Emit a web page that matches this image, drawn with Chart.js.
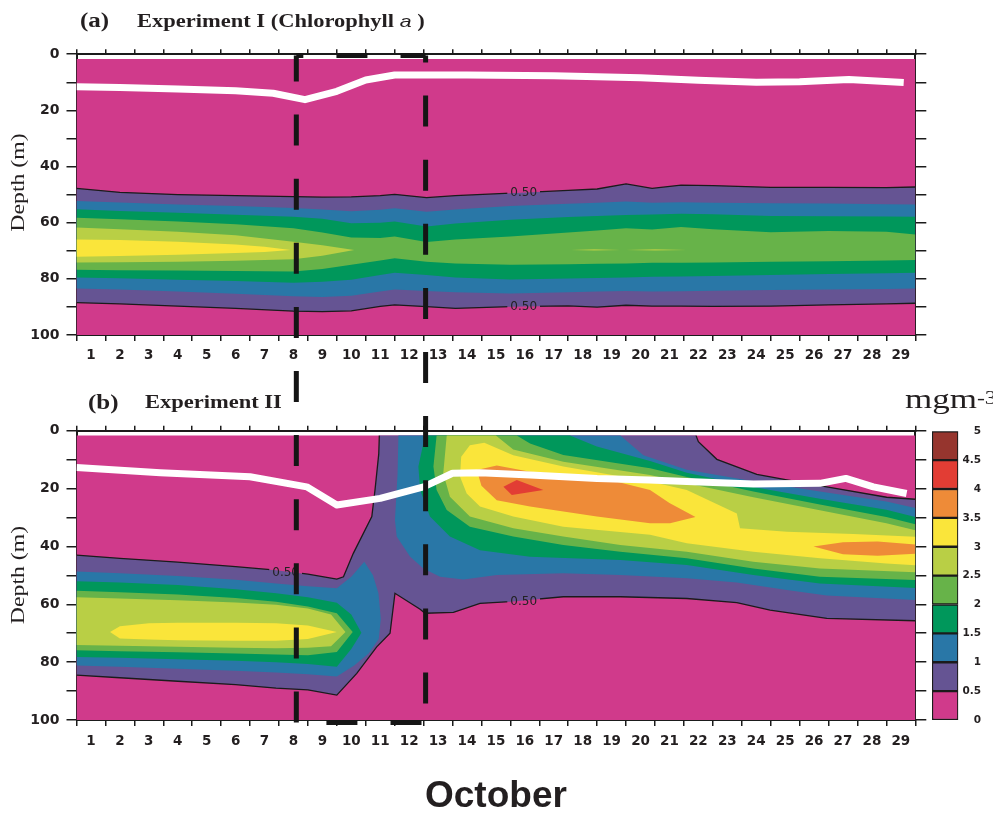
<!DOCTYPE html>
<html>
<head>
<meta charset="utf-8">
<title>Chlorophyll a — Experiments I and II</title>
<script src="https://cdn.jsdelivr.net/npm/chart.js@4.4.1/dist/chart.umd.min.js"></script>
<style>
  html, body { margin: 0; padding: 0; background: #fff; }
  body { position: relative; width: 993px; height: 814px; overflow: hidden; }
  canvas { position: absolute; }
  .txt { position: absolute; left: 0; top: 0; white-space: nowrap; transform-origin: 0 0; color: #231f20; line-height: 1; }
  .serif { font-family: 'Liberation Serif', 'Times New Roman', serif; }
</style>
</head>
<body>
<canvas id="chartA" width="993" height="372" style="left:0;top:0;width:993px;height:372px"></canvas>
<canvas id="chartB" width="993" height="442" style="left:0;top:372px;width:993px;height:442px"></canvas>
<canvas id="scaleBar" width="68" height="320" style="left:925px;top:420px;width:68px;height:320px"></canvas>
<canvas id="box" width="993" height="814" style="left:0;top:0;width:993px;height:814px;pointer-events:none"></canvas>

<div class="txt serif" style="font-weight:bold;font-size:20px;transform:translate(80px,9.8px) scaleX(1.25)">(a)</div>
<div class="txt serif" style="font-weight:bold;font-size:18px;transform:translate(137px,11.6px) scaleX(1.25)">Experiment I (Chlorophyll <span style="font:italic 17px 'Liberation Sans',sans-serif;line-height:1">a</span> )</div>
<div class="txt serif" style="font-weight:bold;font-size:20px;transform:translate(88px,391.8px) scaleX(1.25)">(b)</div>
<div class="txt serif" style="font-weight:bold;font-size:18px;transform:translate(145px,392.9px) scaleX(1.25)">Experiment II</div>
<div class="txt serif" style="font-size:28px;transform:translate(905px,384.5px) scaleX(1.25)">mgm<span style="font-size:19px;vertical-align:4px;line-height:1">-3</span></div>
<div class="txt serif" style="font-size:19px;transform:translate(17.5px,182.5px) rotate(-90deg) scaleX(1.25) translate(-50%,-50%)">Depth (m)</div>
<div class="txt serif" style="font-size:19px;transform:translate(17.5px,575px) rotate(-90deg) scaleX(1.25) translate(-50%,-50%)">Depth (m)</div>
<div class="txt" style="font:bold 37px 'Liberation Sans',Arial,sans-serif;line-height:1;transform:translate(425px,775.7px)">October</div>

<script>
// ---------------------------------------------------------------------------
// Axis and shading definitions
// ---------------------------------------------------------------------------
const days = [1, 2, 3, 4, 5, 6, 7, 8, 9, 10, 11, 12, 13, 14, 15, 16, 17, 18, 19, 20,
              21, 22, 23, 24, 25, 26, 27, 28, 29];
const dayMin = 0.5, dayMax = 29.5;
const depthMax = 100;
const surfaceDepth = 1.7;            // shallowest model level (m)
const levels = [0, 0.5, 1, 1.5, 2, 2.5, 3, 3.5, 4, 4.5];
const levelColors = ['#d03a8b', '#655493', '#2977a7', '#00975b', '#67b349',
                     '#b9cf45', '#fae53a', '#ee8b38', '#e23d34', '#96352e'];
const stormDays = [8.1, 12.57];      // start / end of the dashed period box

// ---------------------------------------------------------------------------
// Experiment I: depth (m) of the upper and lower edge of each contour level
// ---------------------------------------------------------------------------
const aDays  = [0.5, 2, 4, 6, 8, 9, 10, 11, 11.5, 12.6, 13.6, 15.5, 17.5, 18.5, 19.5, 20.4, 21.4, 22.5, 24.5, 26.5, 28.5, 29.5];
const aTop05 = [47.8, 49.2, 50.0, 50.4, 50.7, 50.9, 50.8, 50.4, 49.9, 51.1, 50.4, 49.5, 48.5, 48.0, 46.2, 47.8, 46.6, 46.8, 47.4, 47.4, 47.5, 47.3];
const aTop10 = [52.3, 52.8, 53.5, 54.1, 54.8, 55.3, 55.9, 55.4, 54.9, 56.1, 55.3, 54.1, 53.3, 52.9, 52.5, 52.9, 52.7, 52.9, 53.1, 53.2, 53.4, 53.5];
const aTop15 = [55.2, 55.8, 56.5, 57.2, 57.9, 58.6, 60.2, 60.0, 59.6, 61.4, 60.3, 59.0, 58.0, 57.6, 57.3, 57.1, 56.8, 57.0, 57.6, 57.7, 57.8, 57.9];
const aTop20 = [58.2, 58.8, 59.6, 60.6, 62.0, 63.5, 65.3, 65.5, 64.9, 66.9, 66.0, 64.9, 63.5, 62.8, 62.0, 62.4, 61.5, 62.3, 63.4, 63.0, 63.2, 64.2];
const aBot20 = [76.8, 76.9, 77.0, 77.2, 77.4, 76.5, 75.0, 73.5, 72.7, 73.9, 74.5, 75.0, 74.8, 74.6, 74.5, 74.3, 74.3, 74.2, 73.9, 73.7, 73.5, 73.3];
const aBot15 = [79.5, 79.8, 80.3, 80.8, 81.4, 81.0, 80.3, 78.6, 77.8, 78.6, 79.5, 80.2, 79.9, 79.7, 79.5, 79.3, 79.2, 79.0, 78.6, 78.3, 78.0, 77.8];
const aBot10 = [83.4, 83.8, 84.5, 85.3, 86.2, 86.5, 86.0, 84.5, 83.8, 84.3, 84.8, 85.2, 84.8, 84.5, 84.3, 84.5, 84.4, 84.2, 84.0, 83.8, 83.6, 83.4];
const aBot05 = [88.5, 88.9, 89.7, 90.5, 91.5, 91.7, 91.4, 89.8, 89.3, 89.9, 90.5, 89.9, 89.6, 90.1, 89.4, 89.7, 89.7, 89.8, 89.7, 89.3, 88.9, 88.7];

const aDays25 = [0.5, 2, 4, 6, 8, 9];
const aTop25  = [61.7, 62.3, 63.2, 64.5, 66.8, 68.0];
const aBot25  = [74.2, 74.1, 73.9, 73.6, 73.0, 71.8];
const aTip25  = [10.1, 69.7];
const aDays30 = [0.5, 2, 4, 6, 7];
const aTop30  = [66.0, 66.2, 66.8, 67.8, 68.6];
const aBot30  = [72.1, 71.9, 71.4, 70.8, 70.4];
const aTip30  = [7.9, 69.7];
const aSpots25 = [
  [[17.6, 69.7], [18.4, 69.45], [19.3, 69.7], [18.4, 69.95]],
  [[19.5, 69.7], [20.5, 69.45], [21.6, 69.7], [20.5, 69.95]]
];
const aMldDays  = [0.5, 2, 4, 6, 7.3, 8.4, 9.5, 10.5, 11.5, 14, 17, 20, 22, 24, 25.5, 27.2, 29.1];
const aMldDepth = [11.6, 11.9, 12.4, 13.0, 13.9, 16.2, 13.2, 9.2, 7.4, 7.4, 7.7, 8.4, 9.3, 10.0, 9.8, 9.0, 10.1];
const aLabels = [[15.96, 49.3], [15.96, 89.9]];

// ---------------------------------------------------------------------------
// Experiment II: contour regions as [day, depth] outlines
// ---------------------------------------------------------------------------
const bArea05 = [[10.97, 1.7], [21.92, 1.7], [22.0, 3.8], [22.64, 9.9], [24.02, 15.1], [25.06, 17.0], [26.44, 19.4],
  [28.51, 23.0], [29.5, 23.7], [29.5, 65.7], [26.44, 64.9], [24.48, 62.0], [23.33, 59.4], [21.6, 58.0], [19.3, 57.4],
  [17.33, 57.4], [15.49, 59.1], [14.45, 59.7], [13.53, 62.8], [12.55, 63.1], [12.38, 61.7], [11.51, 56.2], [11.34, 70.0],
  [10.88, 74.7], [10.19, 83.9], [9.5, 91.4], [8.5, 89.6], [7.4, 89.0], [6, 87.8], [4, 86.6], [2, 85.4], [0.5, 84.5],
  [0.5, 43.0], [2, 44.1], [4, 45.4], [6, 47.0], [7.4, 48.2], [8.5, 49.6], [9.5, 51.3], [9.73, 50.5], [10.07, 42.4],
  [10.71, 29.7], [10.82, 20.5], [10.95, 8.0]];
const bBand10 = [[0.5, 48.7], [2, 49.3], [4, 50.2], [6, 51.5], [7.4, 52.8], [8.5, 53.8], [9.5, 54.5], [10.0, 50.5],
  [10.45, 45.3], [10.75, 50.0], [10.94, 56.2], [11.02, 65.0], [10.95, 72.0], [10.6, 77.0], [10.1, 81.2], [9.5, 85.0],
  [8.5, 84.2], [7.4, 83.6], [6, 83.0], [4, 82.3], [2, 81.6], [0.5, 81.2]];
const bBand15 = [[0.5, 52.0], [2, 52.5], [4, 53.3], [6, 54.8], [7.4, 56.2], [8.5, 57.6], [9.5, 59.5], [10.0, 63.5],
  [10.35, 69.8], [10.0, 75.5], [9.5, 81.6], [8.5, 80.6], [7.4, 80.0], [6, 79.5], [4, 79.0], [2, 78.5], [0.5, 78.2]];
const bBand20 = [[0.5, 55.3], [2, 55.8], [4, 56.6], [6, 57.8], [7.4, 59.1], [8.5, 60.8], [9.5, 63.1], [10.05, 69.6],
  [9.5, 76.5], [8.5, 77.6], [7.4, 77.4], [6, 77.0], [4, 76.6], [2, 76.2], [0.5, 75.9]];
const bBand25 = [[0.5, 57.6], [2, 58.0], [4, 58.6], [6, 59.4], [7.4, 60.2], [8.5, 61.5], [9.3, 63.5], [9.8, 69.6],
  [9.3, 74.5], [8.5, 75.0], [7.4, 75.2], [6, 75.0], [4, 74.7], [2, 74.3], [0.5, 74.1]];
const bBand30 = [[1.66, 69.6], [2, 67.6], [3, 66.6], [4, 66.4], [6, 66.4], [7.4, 66.6], [8.5, 67.3], [9.5, 69.6],
  [8.5, 72.0], [7.4, 72.6], [6, 72.6], [4, 72.4], [3, 72.2], [2, 71.8]];
const bBloom10 = [[11.63, 1.7], [19.3, 1.7], [20.1, 8.5], [21.6, 13.5], [23.9, 17.5], [26.2, 21.0], [28.5, 24.5],
  [29.5, 26.7], [29.5, 58.5], [26.44, 57.0], [25.06, 55.1], [23.33, 52.5], [21.6, 51.0], [19.3, 49.9], [17.33, 49.3],
  [15.03, 49.9], [13.88, 51.4], [13.07, 50.5], [12.49, 47.6], [12.03, 43.5], [11.57, 36.6], [11.51, 30.9], [11.6, 15.0]];
const bBloom15 = [[12.55, 1.7], [17.56, 1.7], [18.49, 5.5], [20.33, 10.5], [21.6, 14.5], [23.9, 19.5], [26.2, 23.5],
  [28.5, 27.3], [29.5, 29.8], [29.5, 54.4], [26.2, 52.8], [23.9, 49.9], [21.6, 46.4], [19.3, 44.7], [16.18, 43.6],
  [14.45, 41.3], [13.41, 36.6], [12.72, 29.7], [12.38, 20.5], [12.32, 12.4]];
const bBloom20 = [[12.95, 1.7], [15.72, 1.7], [16.18, 4.4], [17.33, 8.4], [20.33, 13.0], [21.6, 16.0], [23.9, 21.0],
  [26.2, 25.5], [28.5, 29.8], [29.5, 32.3], [29.5, 51.6], [26.2, 50.5], [23.9, 47.6], [21.6, 44.1], [19.3, 41.8],
  [17.33, 39.5], [15.6, 36.6], [14.1, 33.2], [13.3, 27.4], [12.95, 20.5], [12.84, 12.4]];
const bBloom25 = [[13.3, 1.7], [15.0, 1.7], [15.6, 6.5], [17.33, 10.7], [20.33, 15.3], [21.6, 18.2], [23.9, 23.0],
  [26.2, 27.5], [28.5, 32.0], [29.5, 34.4], [29.5, 48.9], [26.2, 47.6], [23.9, 45.3], [21.6, 41.8], [19.3, 39.5],
  [17.33, 36.6], [15.6, 33.7], [14.1, 29.7], [13.41, 22.8], [13.18, 14.7]];
const bBloom30 = [[13.8, 9.0], [14.1, 5.0], [14.6, 4.2], [15.6, 8.5], [17.33, 12.4], [20.33, 17.6], [21.6, 20.5],
  [23.33, 28.6], [23.44, 33.7], [25.06, 34.9], [27.36, 35.7], [29.5, 36.7], [29.5, 46.5], [28.5, 45.9], [26.21, 44.1],
  [23.9, 41.8], [21.6, 38.9], [20.33, 36.0], [17.33, 33.2], [15.6, 29.7], [14.45, 26.2], [13.99, 21.7], [13.76, 15.9]];
const bCore35 = [[14.34, 13.6], [15.03, 12.0], [16.18, 14.2], [18.49, 15.9], [20.33, 20.5], [21.0, 25.0], [21.9, 29.8],
  [21.02, 32.0], [20.33, 32.0], [18.49, 29.7], [16.18, 26.2], [15.03, 24.0], [14.5, 19.0]];
const bDeep35 = [[25.98, 40.0], [27.0, 38.6], [28.2, 38.3], [29.5, 39.3], [29.5, 42.5], [28.2, 43.2], [27.0, 42.7]];
const bCore40 = [[15.26, 19.4], [15.72, 17.0], [16.64, 20.5], [15.55, 22.2]];

const bLine05West = [[0.5, 43.0], [2, 44.1], [4, 45.4], [6, 47.0], [7.4, 48.2], [8.5, 49.6], [9.5, 51.3], [9.73, 50.5],
  [10.07, 42.4], [10.71, 29.7], [10.82, 20.5], [10.95, 8.0], [10.97, 1.7]];
const bLine05Deep = [[0.5, 84.5], [2, 85.4], [4, 86.6], [6, 87.8], [7.4, 89.0], [8.5, 89.6], [9.5, 91.4], [10.19, 83.9],
  [10.88, 74.7], [11.34, 70.0], [11.51, 56.2], [12.38, 61.7], [12.55, 63.1], [13.53, 62.8], [14.45, 59.7], [15.49, 59.1],
  [17.33, 57.4], [19.3, 57.4], [21.6, 58.0], [23.33, 59.4], [24.48, 62.0], [26.44, 64.9], [29.5, 65.7]];
const bLine05East = [[21.92, 1.7], [22.0, 3.8], [22.64, 9.9], [24.02, 15.1], [25.06, 17.0], [26.44, 19.4],
  [28.51, 23.0], [29.5, 23.7]];
const bMldDays  = [0.5, 3.4, 6.5, 8.46, 9.5, 11.0, 12.5, 13.5, 14.45, 16.2, 18.5, 20.3, 21.6, 23.9, 26.2, 27.1, 28.05, 29.2];
const bMldDepth = [12.7, 14.5, 15.9, 19.4, 25.7, 23.4, 19.4, 14.7, 14.5, 15.3, 16.5, 17.0, 17.6, 18.4, 18.2, 16.5, 19.4, 21.7];
const bLabels = [[7.73, 48.8], [15.96, 59.1]];

// ---------------------------------------------------------------------------
// Helpers that turn the arrays above into Chart.js datasets
// ---------------------------------------------------------------------------
const INK = '#1b1b1b';
const colorOf = lv => levelColors[levels.indexOf(lv)];
const toPts = pairs => pairs.map(([x, y]) => ({x, y}));
const seriesPts = (xs, ys) => xs.map((x, i) => ({x, y: ys[i]}));

function band(xs, top, bot, tip) {
  const p = seriesPts(xs, top);
  if (tip) p.push({x: tip[0], y: tip[1]});
  for (let i = xs.length - 1; i >= 0; i--) p.push({x: xs[i], y: bot[i]});
  return p;
}
function shaded(points, lv) {
  return { data: points, fill: 'shape', backgroundColor: colorOf(lv), borderWidth: 0,
           borderColor: 'rgba(0,0,0,0)', pointRadius: 0, tension: 0, xAxisID: 'x', yAxisID: 'y' };
}
function contourLine(points) {
  return { data: points, fill: false, borderColor: INK, borderWidth: 1.3, pointRadius: 0,
           tension: 0, isContour: true, xAxisID: 'x', yAxisID: 'y' };
}
function mixedLayer(xs, ds) {
  return { data: seriesPts(xs, ds), fill: false, borderColor: '#ffffff', borderWidth: 7, pointRadius: 0,
           tension: 0, borderCapStyle: 'butt', borderJoinStyle: 'round', xAxisID: 'x', yAxisID: 'y' };
}
function stackOrder(list) {           // first entry drawn at the bottom
  list.forEach((d, i) => { d.order = list.length - i; });
  return list;
}
const backgroundRect = [[dayMin, surfaceDepth], [dayMax, surfaceDepth], [dayMax, depthMax], [dayMin, depthMax]];

// Contour-value labels: the black line is cut under the text, then the text is written
const labelFont = "12px 'DejaVu Sans', sans-serif";
function labelBoxes(chart, items) {
  const ctx = chart.ctx;
  ctx.save(); ctx.font = labelFont;
  const w = ctx.measureText('0.50').width;
  ctx.restore();
  return items.map(([dx, dy]) => {
    const px = chart.scales.x.getPixelForValue(dx), py = chart.scales.y.getPixelForValue(dy);
    return {px, py, x: px - w / 2 - 3, y: py - 7, w: w + 6, h: 14};
  });
}
const contourLabels = {
  id: 'contourLabels',
  beforeDatasetDraw(chart, args, opts) {
    if (!chart.data.datasets[args.index].isContour) return;
    const ctx = chart.ctx;
    ctx.save();
    ctx.beginPath();
    ctx.rect(0, 0, chart.width, chart.height);
    for (const b of labelBoxes(chart, opts.items)) ctx.rect(b.x, b.y, b.w, b.h);
    ctx.clip('evenodd');
  },
  afterDatasetDraw(chart, args) {
    if (chart.data.datasets[args.index].isContour) chart.ctx.restore();
  },
  afterDatasetsDraw(chart, args, opts) {
    const ctx = chart.ctx;
    ctx.save();
    ctx.font = labelFont; ctx.fillStyle = '#222'; ctx.textAlign = 'center'; ctx.textBaseline = 'middle';
    for (const b of labelBoxes(chart, opts.items)) ctx.fillText('0.50', b.px, b.py + 0.5);
    ctx.restore();
  }
};

function panelOptions(area, canvasH, labelPad, items) {
  const setTicks = s => { s.ticks = days.map(v => ({value: v})); };
  return {
    responsive: false, animation: false, events: [],
    layout: { padding: 0 },
    plugins: { legend: { display: false }, tooltip: { enabled: false }, contourLabels: { items } },
    scales: {
      x: { type: 'linear', position: 'bottom', min: dayMin, max: dayMax, afterBuildTicks: setTicks,
           afterFit: s => { s.height = canvasH - area.bottom; },
           grid: { offset: true, drawOnChartArea: false, tickLength: 6, color: INK, lineWidth: 1.5 },
           border: { display: true, color: INK, width: 2 },
           ticks: { autoSkip: false, maxRotation: 0, padding: labelPad, font: { size: 13.5 }, callback: v => String(v) } },
      xt: { type: 'linear', axis: 'x', position: 'top', min: dayMin, max: dayMax, afterBuildTicks: setTicks,
            afterFit: s => { s.height = area.top; },
            grid: { offset: true, drawOnChartArea: false, tickLength: 5, color: INK, lineWidth: 1.5 },
            border: { display: true, color: INK, width: 2 },
            ticks: { display: false } },
      y: { type: 'linear', position: 'left', min: 0, max: depthMax, reverse: true,
           afterFit: s => { s.width = area.left; },
           grid: { drawOnChartArea: false, tickLength: 10, color: INK, lineWidth: 1.5 },
           border: { display: true, color: INK, width: 2 },
           ticks: { stepSize: 10, padding: 7, font: { size: 14 }, callback: v => (v % 20 === 0 ? String(v) : '') } },
      yr: { type: 'linear', axis: 'y', position: 'right', min: 0, max: depthMax, reverse: true,
            afterFit: s => { s.width = 993 - area.right; },
            grid: { drawOnChartArea: false, tickLength: 11, color: INK, lineWidth: 1.5 },
            border: { display: true, color: INK, width: 2 },
            ticks: { stepSize: 10, display: false } }
    }
  };
}

Chart.defaults.font.family = "'DejaVu Sans', sans-serif";
Chart.defaults.font.size = 13;
Chart.defaults.font.weight = 'bold';
Chart.defaults.color = '#231f20';

// ---------------------------------------------------------------------------
// (a) Experiment I
// ---------------------------------------------------------------------------
const setA = stackOrder([
  shaded(toPts(backgroundRect), 0),
  shaded(band(aDays, aTop05, aBot05), 0.5),
  shaded(band(aDays, aTop10, aBot10), 1),
  shaded(band(aDays, aTop15, aBot15), 1.5),
  shaded(band(aDays, aTop20, aBot20), 2),
  shaded(band(aDays25, aTop25, aBot25, aTip25), 2.5),
  ...aSpots25.map(s => shaded(toPts(s), 2.5)),
  shaded(band(aDays30, aTop30, aBot30, aTip30), 3),
  contourLine(seriesPts(aDays, aTop05)),
  contourLine(seriesPts(aDays, aBot05)),
  mixedLayer(aMldDays, aMldDepth)
]);
const chartA = new Chart(document.getElementById('chartA'), {
  type: 'line',
  data: { datasets: setA },
  options: panelOptions({left: 76.5, right: 915.3, top: 54.2, bottom: 335}, 372, 6, aLabels),
  plugins: [contourLabels]
});

// ---------------------------------------------------------------------------
// (b) Experiment II
// ---------------------------------------------------------------------------
const setB = stackOrder([
  shaded(toPts(backgroundRect), 0),
  shaded(toPts(bArea05), 0.5),
  shaded(toPts(bBand10), 1),
  shaded(toPts(bBloom10), 1),
  shaded(toPts(bBand15), 1.5),
  shaded(toPts(bBloom15), 1.5),
  shaded(toPts(bBand20), 2),
  shaded(toPts(bBloom20), 2),
  shaded(toPts(bBand25), 2.5),
  shaded(toPts(bBloom25), 2.5),
  shaded(toPts(bBand30), 3),
  shaded(toPts(bBloom30), 3),
  shaded(toPts(bCore35), 3.5),
  shaded(toPts(bDeep35), 3.5),
  shaded(toPts(bCore40), 4),
  contourLine(toPts(bLine05West)),
  contourLine(toPts(bLine05Deep)),
  contourLine(toPts(bLine05East)),
  mixedLayer(bMldDays, bMldDepth)
]);
const chartB = new Chart(document.getElementById('chartB'), {
  type: 'line',
  data: { datasets: setB },
  options: panelOptions({left: 76.5, right: 915.3, top: 58.7, bottom: 348}, 442, 7, bLabels),
  plugins: [contourLabels]
});

// ---------------------------------------------------------------------------
// Colour key (labels right-aligned against the canvas padding)
// ---------------------------------------------------------------------------
new Chart(document.getElementById('scaleBar'), {
  type: 'bar',
  data: {
    labels: [''],
    datasets: levels.map((lv, i) => ({
      data: [[lv, lv + 0.5]], backgroundColor: levelColors[i], borderColor: INK, borderWidth: 1.5,
      borderSkipped: false, grouped: false, barPercentage: 1, categoryPercentage: 1
    }))
  },
  options: {
    responsive: false, animation: false, events: [],
    layout: { padding: { left: 7, top: 10, bottom: 20, right: 12 } },
    plugins: { legend: { display: false }, tooltip: { enabled: false } },
    scales: {
      x: { display: false },
      y: { position: 'right', min: 0, max: 5,
           afterFit: s => { s.width = 22.7; },
           grid: { display: false, drawTicks: false }, border: { display: false },
           ticks: { stepSize: 0.5, padding: 5, crossAlign: 'far', font: { size: 10.5, weight: 'bold' },
                    callback: v => String(v) } }
    }
  }
});

// ---------------------------------------------------------------------------
// Dashed box marking the period across both panels
// ---------------------------------------------------------------------------
(function drawPeriodBox() {
  const ctx = document.getElementById('box').getContext('2d');
  const topB = 372;
  const x0 = chartA.scales.x.getPixelForValue(stormDays[0]);
  const x1 = chartA.scales.x.getPixelForValue(stormDays[1]);
  const y0 = chartA.chartArea.top + 1.3;
  const y1 = topB + chartB.chartArea.bottom + 2.5;
  ctx.strokeStyle = '#151515';
  ctx.lineWidth = 5;
  ctx.lineCap = 'butt';
  ctx.setLineDash([31, 33.1]);
  const side = (ax, ay, bx, by, offset) => {
    ctx.lineDashOffset = offset;
    ctx.beginPath(); ctx.moveTo(ax, ay); ctx.lineTo(bx, by); ctx.stroke();
  };
  side(x0, y0, x1, y0, 24);    // top edge, left to right
  side(x1, y0, x1, y1, 24);    // right edge, downwards
  side(x1, y1, x0, y1, 60);    // bottom edge, right to left
  side(x0, y1, x0, y0, 0);     // left edge, upwards
})();
</script>
</body>
</html>
